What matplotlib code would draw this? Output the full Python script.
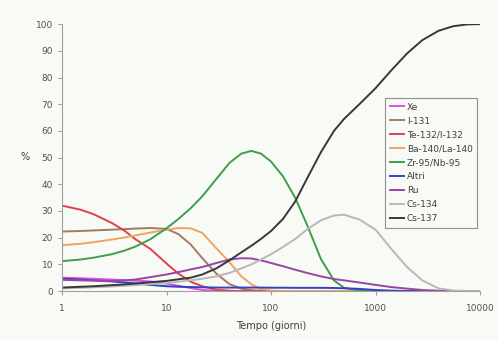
import numpy as np
import matplotlib
matplotlib.use("Agg")
import matplotlib.pyplot as plt

# tempo (giorni) - common grid
tempo = [1, 1.5, 2, 3, 4, 5, 7, 10, 13, 17, 22, 30, 40, 52, 65, 80, 100, 130,
         170, 220, 300, 400, 500, 700, 1000, 1400, 2000, 2800, 4000, 5500, 7500, 10000]

xe = [5.0, 4.8, 4.6, 4.3, 4.1, 3.9, 3.6, 2.8, 2.0, 1.1, 0.4, 0.1, 0, 0, 0, 0, 0, 0,
      0, 0, 0, 0, 0, 0, 0, 0, 0, 0, 0, 0, 0, 0]
i131 = [22.3, 22.5, 22.7, 23.0, 23.2, 23.4, 23.6, 23.3, 21.3, 17.5, 12.3, 6.5, 2.6, 0.9, 0.3, 0.1, 0, 0,
        0, 0, 0, 0, 0, 0, 0, 0, 0, 0, 0, 0, 0, 0]
te132 = [32.0, 30.5, 28.8, 25.5, 22.5, 19.5, 15.8, 10.3, 6.5, 3.5, 1.8, 0.5, 0.1, 0, 0, 0, 0, 0,
         0, 0, 0, 0, 0, 0, 0, 0, 0, 0, 0, 0, 0, 0]
ba140 = [17.2, 17.7, 18.3, 19.3, 20.1, 20.8, 21.9, 23.0, 23.6, 23.5, 21.8, 16.0, 10.8, 5.5, 2.5, 0.8, 0.2, 0,
         0, 0, 0, 0, 0, 0, 0, 0, 0, 0, 0, 0, 0, 0]
zr95 = [11.2, 11.8, 12.5, 13.8, 15.2, 16.6, 19.4, 23.5, 27.0, 31.0, 35.5, 42.0, 48.0, 51.5, 52.5, 51.5, 48.5, 43.0,
        35.0, 25.0, 12.0, 4.0, 1.2, 0.2, 0, 0, 0, 0, 0, 0, 0, 0]
altri = [4.6, 4.3, 4.0, 3.6, 3.2, 2.9, 2.3, 1.8, 1.6, 1.5, 1.4, 1.3, 1.3, 1.3, 1.3, 1.3, 1.25, 1.25,
         1.2, 1.2, 1.2, 1.15, 1.05, 0.8, 0.4, 0.15, 0, 0, 0, 0, 0, 0]
ru = [4.2, 4.0, 3.9, 3.8, 4.0, 4.3, 5.2, 6.2, 7.1, 8.1, 9.0, 10.5, 11.8, 12.3, 12.2, 11.5, 10.5, 9.3,
      8.0, 6.8, 5.5, 4.5, 4.0, 3.2, 2.3, 1.5, 0.9, 0.4, 0.1, 0, 0, 0]
cs134 = [1.0, 1.2, 1.4, 1.7, 2.0, 2.2, 2.6, 3.0, 3.5, 4.0, 4.6, 5.5, 6.8, 8.5, 10.0, 11.8, 13.8, 16.5,
         19.5, 23.0, 26.5, 28.3, 28.6, 26.8, 23.0, 16.0, 9.0, 4.0, 1.0, 0.2, 0, 0]
cs137 = [1.3, 1.6, 1.8, 2.2, 2.5, 2.8, 3.3, 3.8, 4.4, 5.0, 6.2, 8.5, 11.5, 14.5, 17.0, 19.5, 22.5, 27.0,
         33.5, 42.0, 52.0, 60.0, 64.5, 70.0, 76.0, 82.5, 89.0, 94.0, 97.5, 99.2, 99.9, 100.0]

labels = ["Xe", "I-131", "Te-132/I-132", "Ba-140/La-140", "Zr-95/Nb-95",
          "Altri", "Ru", "Cs-134", "Cs-137"]
series = [xe, i131, te132, ba140, zr95, altri, ru, cs134, cs137]
colors = ["#e04ee0", "#a57a62", "#e0404e", "#f0a460", "#3f9e4a",
          "#3342c4", "#9a44a8", "#b8b8b8", "#383838"]

bg = "#f8faf6"
fig = plt.figure(figsize=(4.98, 3.4), dpi=100, facecolor=bg)
ax = fig.add_axes([0.1245, 0.144, 0.8395, 0.785], facecolor=bg)

for vals, lab, col in zip(series, labels, colors):
    ax.plot(tempo, vals, color=col, lw=1.4, label=lab)

ax.set_xscale("log")
ax.set_xlim(1, 10000)
ax.set_ylim(0, 100)
ax.set_xticks([1, 10, 100, 1000, 10000])
ax.set_xticklabels(["1", "10", "100", "1000", "10000"])
ax.xaxis.set_minor_locator(matplotlib.ticker.NullLocator())
ax.set_yticks(range(0, 101, 10))

for s in ["top", "right"]:
    ax.spines[s].set_visible(False)
for s in ["left", "bottom"]:
    ax.spines[s].set_color("#a0a0a0")
    ax.spines[s].set_linewidth(0.8)
ax.tick_params(colors="#a0a0a0", labelcolor="#505050", labelsize=6.5,
               length=3, width=0.8)
ax.tick_params(axis="x", pad=6)

ax.set_xlabel("Tempo (giorni)", fontsize=7, color="#404040", labelpad=6)
fig.text(0.05, 0.538, "%", fontsize=7, color="#404040", ha="center", va="center")

leg = ax.legend(loc="upper left", bbox_to_anchor=(0.773, 0.723), borderaxespad=0,
                fontsize=6.5, handlelength=1.6, handletextpad=0.3, labelspacing=0.55,
                fancybox=False, framealpha=1, facecolor=bg, edgecolor="#909090",
                borderpad=0.5)
leg.get_frame().set_linewidth(0.8)
for t in leg.get_texts():
    t.set_color("#404040")

fig.savefig("out.png", dpi=100, facecolor=bg)
